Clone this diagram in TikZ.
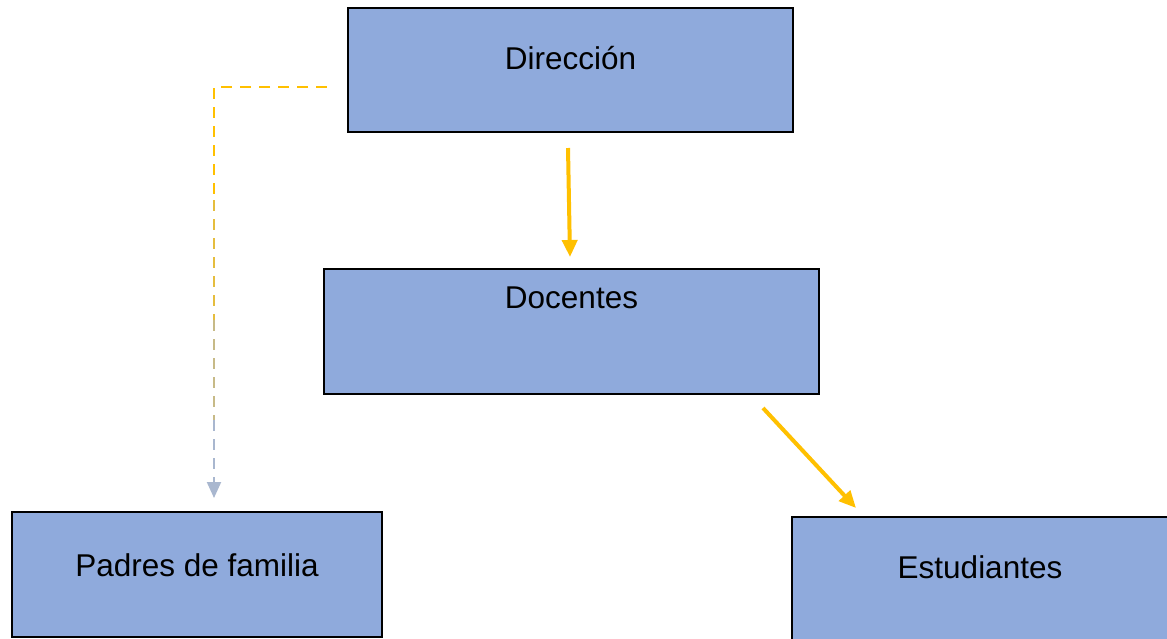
\documentclass[tikz,border=0pt]{standalone}
\usepackage{fontspec}
\setmainfont{Liberation Sans}
\usetikzlibrary{arrows.meta,calc}
\definecolor{boxfill}{HTML}{8FAADC}
\definecolor{arrorange}{HTML}{FFC000}
\definecolor{fadeblue}{HTML}{A9B7CF}
\begin{document}
\begin{tikzpicture}[x=1pt,y=-1pt,
  box/.style={draw=black,line width=2pt,fill=boxfill,rectangle,inner sep=0pt},
  lbl/.style={font=\fontsize{31.5}{38}\selectfont,inner sep=0pt,anchor=center},
  solidarrow/.style={draw=arrorange,line width=4pt,-{Triangle[length=17pt,width=15pt]}},
  dashline/.style={line width=2pt,dash pattern=on 11pt off 8pt}
]
\useasboundingbox (0,0) rectangle (1167,638);
\fill[white] (0,0) rectangle (1167,638);
% boxes
\node[box,minimum width=445pt,minimum height=124pt] (dir) at (570.5,70) {};
\node[box,minimum width=495pt,minimum height=125pt] (doc) at (571.5,331.5) {};
\node[box,minimum width=370pt,minimum height=125pt] (pad) at (197,574.5) {};
\node[box,minimum width=400pt,minimum height=140pt] (est) at (992,587) {};
% labels
\node[lbl] (tdir) at (570.5,58) {Dirección};
\node[lbl] (tdoc) at (571.5,298) {Docentes};
\node[lbl] (tpad) at (197,565) {Padres de familia};
\node[lbl] (test) at (980,567) {Estudiantes};
% connector points
\coordinate (a1s) at (568,148);
\coordinate (a1e) at (570,257);
\coordinate (a2s) at (763,408);
\coordinate (a2e) at (856,508);
\coordinate (d0) at (327,87);
\coordinate (d1) at (214,87);
\coordinate (d2) at (214,200);
\coordinate (d3) at (214,320);
\coordinate (d4) at (214,420);
\coordinate (d5) at (214,498);
% solid arrows
\draw[solidarrow] (a1s) -- (a1e);
\draw[solidarrow] (a2s) -- (a2e);
% dashed connector (orange fading to grey-blue)
\draw[dashline,draw=arrorange] (d0) -- (d1) -- (d2);
\draw[dashline,draw=arrorange!70!fadeblue] (d2) -- (d3);
\draw[dashline,draw=arrorange!35!fadeblue] (d3) -- (d4);
\draw[dashline,draw=fadeblue,-{Triangle[length=16pt,width=14pt]}] (d4) -- (d5);
\end{tikzpicture}
\end{document}
